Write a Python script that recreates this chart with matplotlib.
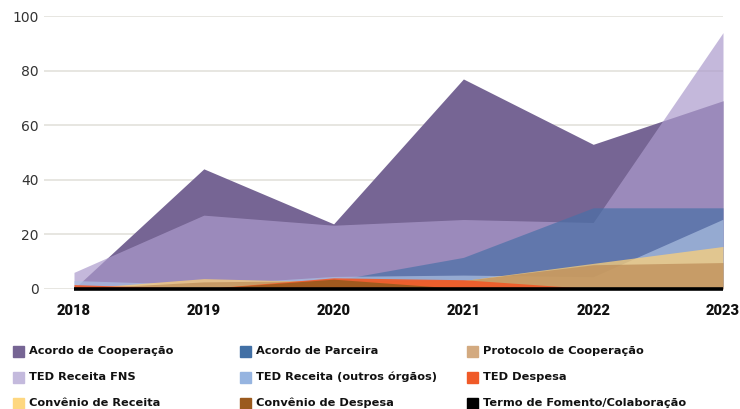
import matplotlib
matplotlib.use("Agg")
import matplotlib.pyplot as plt
from matplotlib.patches import Rectangle

years = [2018, 2019, 2020, 2021, 2022, 2023]

acordo_cooperacao = [0, 44, 23.8, 77, 53, 69]
ted_receita_fns = [6, 27, 23.3, 25.4, 24.3, 94]
acordo_parceira = [0, 0, 3, 11.5, 29.7, 29.7]
ted_receita_outros = [3, 1.5, 4.5, 5, 4.4, 25.5]
convenio_receita = [0, 3.7, 2.5, 3, 9.3, 15.5]
protocolo_cooperacao = [0, 2.5, 3, 3, 8.8, 9.6]
ted_despesa = [1.5, 0, 4, 3.3, 0, 0]
convenio_despesa = [0, 0, 3.5, 0, 0, 0]
termo_fomento = [0, 0, 0, 0, 0, 0]

# (label, values, fill colour, alpha, legend colour) in drawing order
series = [
    ("Acordo de Cooperação", acordo_cooperacao, "#766594", 1.0, "#766594"),
    ("TED Receita FNS", ted_receita_fns, "#ac9bcc", 0.7, "#c4badd"),
    ("Acordo de Parceira", acordo_parceira, "#4970a7", 0.7, "#4270a5"),
    ("TED Receita (outros órgãos)", ted_receita_outros, "#acc0e2", 0.7, "#96b4e0"),
    ("Convênio de Receita", convenio_receita, "#fbd07a", 0.75, "#fed780"),
    ("Protocolo de Cooperação", protocolo_cooperacao, "#bc8b56", 0.7, "#d3aa80"),
    ("TED Despesa", ted_despesa, "#f05a28", 0.92, "#f05a28"),
    ("Convênio de Despesa", convenio_despesa, "#9b5a1e", 0.92, "#9b5a1e"),
    ("Termo de Fomento/Colaboração", termo_fomento, "#000000", 1.0, "#000000"),
]

legend_order = [
    "Acordo de Cooperação", "Acordo de Parceira", "Protocolo de Cooperação",
    "TED Receita FNS", "TED Receita (outros órgãos)", "TED Despesa",
    "Convênio de Receita", "Convênio de Despesa", "Termo de Fomento/Colaboração",
]

fig = plt.figure(figsize=(7.4, 4.09), dpi=100)
ax = fig.add_axes([44 / 740, 1 - 288.7 / 409, (723 - 44) / 740, (288.7 - 16.3) / 409])

for i, (label, vals, col, a, _) in enumerate(series):
    ax.fill_between(years, 0, vals, color=col, alpha=a, linewidth=0, zorder=2 + i)

ax.plot(years, termo_fomento, color="#000000", lw=2.6, zorder=20, clip_on=False,
        solid_capstyle="butt")

ax.set_xlim(2018 - 30 / 129.8, 2023)
ax.set_ylim(0, 100)
ax.set_yticks([0, 20, 40, 60, 80, 100])
ax.set_xticks(years)
ax.set_xticklabels([str(y) for y in years], fontsize=10.5, fontweight=900,
                   color="#111111", family=["Roboto", "DejaVu Sans"])
ax.tick_params(axis="x", length=0, pad=11)
ax.tick_params(axis="y", length=0, pad=4, labelsize=10, labelcolor="#333333")
ax.grid(axis="y", color="#e3e1dc", lw=1.2, zorder=0)
ax.set_axisbelow(True)
for s in ax.spines.values():
    s.set_visible(False)

# legend
col_x = [13, 240, 467]
row_y = [351, 377, 403]
lookup = {s[0]: s[4] for s in series}
for k, name in enumerate(legend_order):
    r, c = divmod(k, 3)
    x0 = col_x[c]
    yc = row_y[r]
    fig.patches.append(Rectangle((x0 / 740, 1 - (yc + 5.5) / 409), 11 / 740, 11 / 409,
                                 transform=fig.transFigure, color=lookup[name]))
    fig.text((x0 + 16) / 740, 1 - yc / 409, name, fontsize=8.2, fontweight="bold",
             va="center", ha="left", color="#111111")

fig.savefig("out.png", dpi=100)
